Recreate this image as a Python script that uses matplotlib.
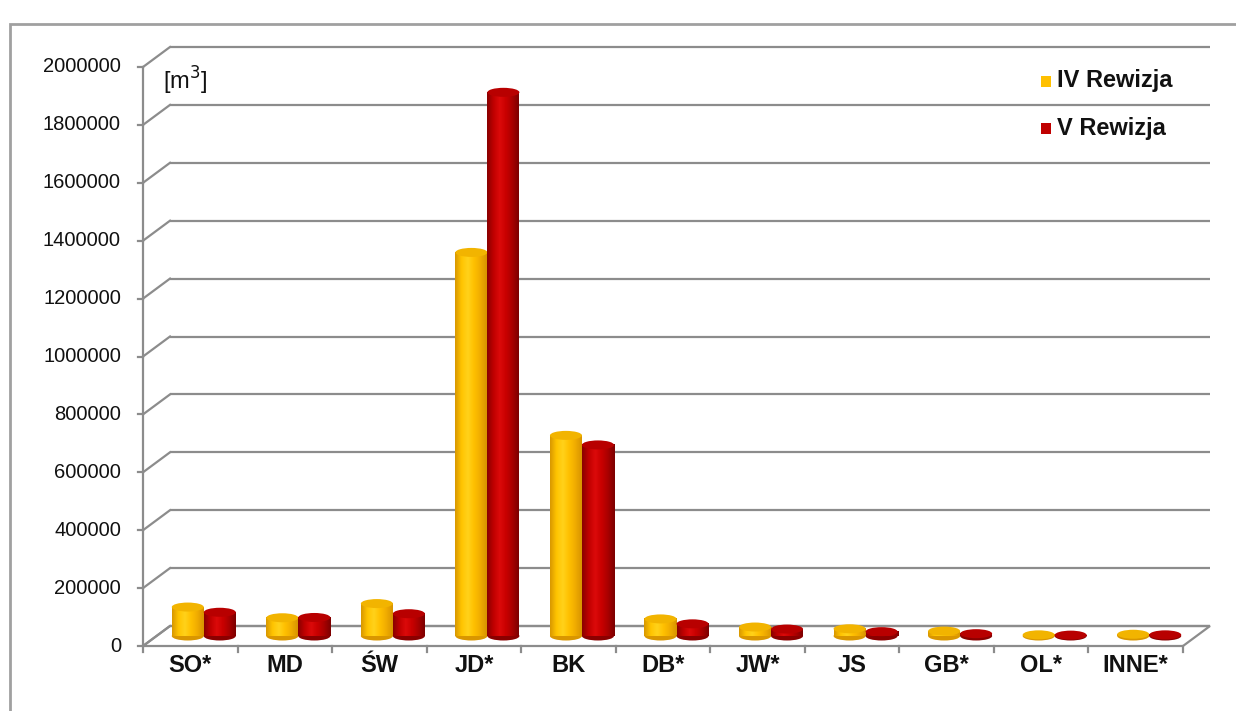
import numpy as np
import matplotlib
matplotlib.use("Agg")
import matplotlib.pyplot as plt
from matplotlib.colors import LinearSegmentedColormap
from matplotlib.patches import Ellipse, Polygon, Rectangle

plt.rcParams['font.family'] = ['Liberation Sans', 'DejaVu Sans']

# --- dane ---
categories = ["SO*", "MD", "ŚW", "JD*", "BK", "DB*", "JW*", "JS", "GB*", "OL*", "INNE*"]
rew_iv = [100000, 63000, 112000, 1325000, 693000, 59000, 31000, 25000, 17000, 4000, 6000]
rew_v = [82000, 64000, 77000, 1878000, 660000, 42000, 24000, 15000, 8000, 3000, 4000]
series_names = ["IV Rewizja", "V Rewizja"]
y_ticks = [0, 200000, 400000, 600000, 800000, 1000000, 1200000, 1400000, 1600000, 1800000, 2000000]

W, H, DPI = 1236, 711, 100
fig = plt.figure(figsize=(W / DPI, H / DPI), dpi=DPI)
fig.patch.set_facecolor("white")

# front plot box in pixels
left_px, right_px, top_px, bottom_px = 143, 1183, 67, 646
ax = fig.add_axes([left_px / W, 1 - bottom_px / H, (right_px - left_px) / W, (bottom_px - top_px) / H])
n = len(categories)
ymax = y_ticks[-1]
ax.set_xlim(-0.5, n - 0.5)
ax.set_ylim(0, ymax)
ax.set_axis_off()

# depth of the pseudo-3d box, converted to data units
depth_x_px, depth_y_px = 27, 20
px_x = n / (right_px - left_px)
px_y = ymax / (bottom_px - top_px)
dxd = depth_x_px * px_x
dyd = depth_y_px * px_y

grid_c = "#8c8c8c"
lw = 1.6

# back wall grid + diagonals + left ticks
for v in y_ticks:
    ax.plot([-0.5 + dxd, n - 0.5 + dxd], [v + dyd, v + dyd], color=grid_c, lw=lw,
            clip_on=False, zorder=1, solid_capstyle="butt")
    ax.plot([-0.5, -0.5 + dxd], [v, v + dyd], color=grid_c, lw=lw, clip_on=False, zorder=1)
    ax.plot([-0.5 - 5 * px_x, -0.5], [v, v], color=grid_c, lw=lw, clip_on=False, zorder=1)
    ax.text(-0.5 - 22 * px_x, v, f"{v}", ha="right", va="center", fontsize=14.5, color="#111111")

# left axis line
ax.plot([-0.5, -0.5], [0, ymax], color=grid_c, lw=lw, clip_on=False, zorder=1)

# floor
floor = Polygon([[-0.5, 0], [n - 0.5, 0], [n - 0.5 + dxd, dyd], [-0.5 + dxd, dyd]],
                closed=True, facecolor="none", edgecolor=grid_c, lw=lw, clip_on=False, zorder=1)
ax.add_patch(floor)

# category ticks and labels
for k in range(n + 1):
    ax.plot([k - 0.5, k - 0.5], [0, -6 * px_y], color=grid_c, lw=lw, clip_on=False, zorder=1)
for k, c in enumerate(categories):
    ax.text(k, -20 * px_y, c, ha="center", va="center", fontsize=17, fontweight="bold",
            color="#111111")

# cylinders
cmaps = [
    LinearSegmentedColormap.from_list("yel", ["#d99800", "#ffc400", "#ffd21a", "#ffc000", "#f0ac00", "#d89400"]),
    LinearSegmentedColormap.from_list("red", ["#8a0000", "#c00000", "#dc0a0a", "#c80000", "#a80000", "#7c0000"]),
]
top_cols = ["#f2b400", "#b80000"]
bot_cols = ["#d99600", "#8a0000"]
bw = 32 * px_x
eh = 9 * px_y
grad = np.linspace(0, 1, 64).reshape(1, -1)

for k in range(n):
    for s, vals in enumerate([rew_iv, rew_v]):
        v = vals[k]
        xc = k + dxd / 2 + (s - 0.5) * bw
        base = dyd / 2
        z = 3 + k * 0.1 + s * 0.05
        ax.add_patch(Ellipse((xc, base), bw, eh, facecolor=bot_cols[s], edgecolor="none",
                             zorder=z, clip_on=False))
        ax.imshow(grad, cmap=cmaps[s], extent=(xc - bw / 2, xc + bw / 2, base, base + v),
                  aspect="auto", zorder=z + 0.01, interpolation="bilinear", clip_on=False)
        ax.add_patch(Ellipse((xc, base + v), bw, eh, facecolor=top_cols[s], edgecolor="none",
                             zorder=z + 0.02, clip_on=False))

ax.set_xlim(-0.5, n - 0.5)
ax.set_ylim(0, ymax)

# unit label
fig.text(163 / W, 1 - 81 / H, "[m$^3$]", fontsize=17, ha="left", va="center", color="#111111")

# legend
leg_cols = ["#ffc000", "#c00000"]
for i, name in enumerate(series_names):
    ypx = 81 + i * 47
    fig.patches.append(Rectangle((1041 / W, 1 - (ypx + 6) / H), 10 / W, 11 / H,
                                 transform=fig.transFigure, facecolor=leg_cols[i], edgecolor="none"))
    fig.text(1057 / W, 1 - ypx / H, name, fontsize=17, fontweight="bold", ha="left",
             va="center", color="#111111")

# outer frame
fig.patches.append(Rectangle((10 / W, -0.05), 1.2, 1 - 24 / H + 0.05, transform=fig.transFigure,
                             facecolor="none", edgecolor="#a0a0a0", lw=2))

fig.savefig("out.png", dpi=DPI)
